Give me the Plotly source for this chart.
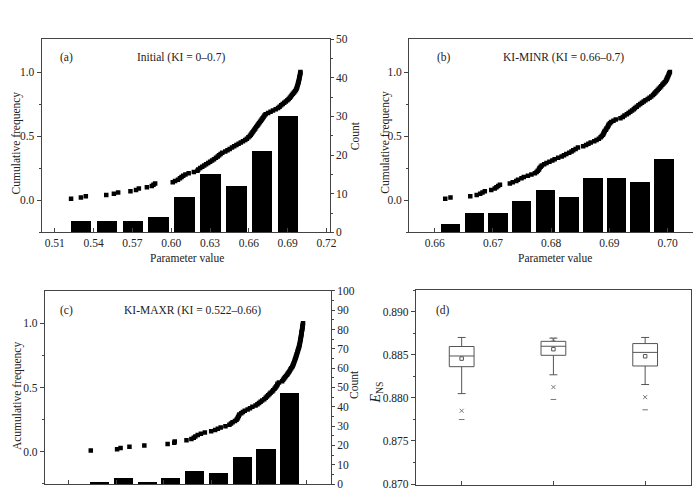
import plotly.graph_objects as go

# ---------------- data ----------------
# (a) Initial (KI = 0-0.7): sorted parameter samples and histogram
a_samples = [0.5226, 0.5302, 0.5340, 0.5498, 0.5557, 0.5590, 0.5685, 0.5728, 0.5750, 0.5812,
             0.5850, 0.5863, 0.5876, 0.6012, 0.6030, 0.6052, 0.6068, 0.6080, 0.6093, 0.6110,
             0.6135, 0.6175, 0.6203, 0.6209, 0.6224, 0.6240, 0.6255, 0.6270, 0.6286, 0.6301,
             0.6316, 0.6331, 0.6346, 0.6360, 0.6370, 0.6382, 0.6395, 0.6418, 0.6435, 0.6452,
             0.6470, 0.6487, 0.6504, 0.6521, 0.6538, 0.6555, 0.6572, 0.6585, 0.6597, 0.6608,
             0.6615, 0.6622, 0.6629, 0.6636, 0.6643, 0.6650, 0.6657, 0.6665, 0.6672, 0.6679,
             0.6686, 0.6693, 0.6700, 0.6707, 0.6714, 0.6721, 0.6730, 0.6749, 0.6768, 0.6787,
             0.6808, 0.6826, 0.6838, 0.6850, 0.6862, 0.6874, 0.6886, 0.6898, 0.6908, 0.6917,
             0.6925, 0.6933, 0.6941, 0.6949, 0.6957, 0.6964, 0.6968, 0.6972, 0.6975, 0.6978,
             0.6981, 0.6984, 0.6986, 0.6988, 0.6990, 0.6992, 0.6994, 0.6996, 0.6998, 0.6999]
a_bin_centers = [0.53, 0.55, 0.57, 0.59, 0.61, 0.63, 0.65, 0.67, 0.69]
a_counts = [3, 3, 3, 4, 9, 15, 12, 21, 30]
a_bar_width = 0.0158

# (b) KI-MINR (KI = 0.66-0.7)
b_samples = [0.6618, 0.6627, 0.6661, 0.6672, 0.6678, 0.6682, 0.6686, 0.6697, 0.6703, 0.6706,
             0.6709, 0.6712, 0.6729, 0.6734, 0.6740, 0.6743, 0.6749, 0.6753, 0.6760, 0.6766,
             0.6772, 0.6775, 0.6777, 0.6779, 0.6780, 0.6782, 0.6784, 0.6788, 0.6792, 0.6797,
             0.6802, 0.6806, 0.6812, 0.6818, 0.6822, 0.6826, 0.6831, 0.6835, 0.6838, 0.6842,
             0.6846, 0.6855, 0.6860, 0.6864, 0.6868, 0.6874, 0.6878, 0.6882, 0.6885, 0.6887,
             0.6889, 0.6890, 0.6891, 0.6892, 0.6894, 0.6895, 0.6897, 0.6898, 0.6899, 0.6901,
             0.6903, 0.6907, 0.6911, 0.6919, 0.6923, 0.6926, 0.6930, 0.6933, 0.6936, 0.6939,
             0.6942, 0.6944, 0.6947, 0.6950, 0.6953, 0.6956, 0.6959, 0.6962, 0.6966, 0.6969,
             0.6972, 0.6975, 0.6977, 0.6979, 0.6981, 0.6983, 0.6985, 0.6987, 0.6989, 0.6991,
             0.6993, 0.6995, 0.6997, 0.6998, 0.6999, 0.7000, 0.7001, 0.7002, 0.7003, 0.7004]
b_bin_centers = [0.6627, 0.6668, 0.6709, 0.6749, 0.6790, 0.6831, 0.6872, 0.6913, 0.6953, 0.6994]
b_counts = [2, 5, 5, 8, 11, 9, 14, 14, 13, 19]
b_bar_width = 0.0033

# (c) KI-MAXR (KI = 0.522-0.66)
c_samples = [0.5240, 0.5406, 0.5428, 0.5484, 0.5578, 0.5725, 0.5767, 0.5770, 0.5844, 0.5875,
             0.5890, 0.5900, 0.5915, 0.5935, 0.5960, 0.6000, 0.6025, 0.6042, 0.6060, 0.6090,
             0.6115, 0.6125, 0.6135, 0.6150, 0.6160, 0.6166, 0.6170, 0.6174, 0.6178, 0.6190,
             0.6200, 0.6212, 0.6230, 0.6245, 0.6260, 0.6280, 0.6292, 0.6302, 0.6312, 0.6322,
             0.6335, 0.6344, 0.6352, 0.6360, 0.6368, 0.6375, 0.6385, 0.6392, 0.6400, 0.6406,
             0.6412, 0.6417, 0.6419, 0.6428, 0.6448, 0.6454, 0.6460, 0.6466, 0.6472, 0.6479,
             0.6484, 0.6490, 0.6495, 0.6500, 0.6505, 0.6511, 0.6514, 0.6518, 0.6521, 0.6524,
             0.6527, 0.6530, 0.6533, 0.6535, 0.6538, 0.6540, 0.6543, 0.6545, 0.6548, 0.6550,
             0.6553, 0.6555, 0.6557, 0.6559, 0.6560, 0.6562, 0.6563, 0.6565, 0.6566, 0.6567,
             0.6569, 0.6570, 0.6571, 0.6572, 0.6574, 0.6575, 0.6576, 0.6577, 0.6578, 0.6580]
c_bin_centers = [0.5295, 0.5445, 0.5595, 0.5745, 0.5895, 0.6045, 0.6195, 0.6345, 0.6495]
c_counts = [1, 3, 1, 3, 7, 6, 14, 18, 47]
c_bar_width = 0.012

# (d) box statistics of E_NS for the three sets
d_pos = [1, 2, 3]
d_lowerfence = [0.88049, 0.88267, 0.88154]
d_q1 = [0.88361, 0.88493, 0.88369]
d_median = [0.88485, 0.88598, 0.88527]
d_q3 = [0.88595, 0.88655, 0.88629]
d_upperfence = [0.88700, 0.88692, 0.88700]
d_mean = [0.88455, 0.88564, 0.88482]
d_p1 = [0.87850, 0.88124, 0.88008]
d_min = [0.87748, 0.87981, 0.87861]
d_p99_x = [2]
d_p99 = [0.88680]

# ---------------- helpers ----------------
W, H = 700, 491
FONT = "Liberation Serif, Times New Roman, serif"
TXT = "#222222"
LN = "#444444"
FS = 11.5


def px(x):
    return x / W


def py(y):
    return 1 - y / H


def cumfreq(samples):
    n = len(samples)
    return [(i + 1) / n for i in range(n)]


fig = go.Figure()

dot = dict(symbol="square", size=4.5, color="black", line=dict(width=0))

# (a)
fig.add_trace(go.Bar(x=a_bin_centers, y=a_counts, width=a_bar_width, marker=dict(color="black", line=dict(width=0)),
                     xaxis="x", yaxis="y2"))
fig.add_trace(go.Scatter(x=a_samples, y=cumfreq(a_samples), mode="markers", marker=dot, xaxis="x", yaxis="y"))
# (b)
fig.add_trace(go.Bar(x=b_bin_centers, y=b_counts, width=b_bar_width, marker=dict(color="black", line=dict(width=0)),
                     xaxis="x2", yaxis="y4"))
fig.add_trace(go.Scatter(x=b_samples, y=cumfreq(b_samples), mode="markers", marker=dot, xaxis="x2", yaxis="y3"))
# (c)
fig.add_trace(go.Bar(x=c_bin_centers, y=c_counts, width=c_bar_width, marker=dict(color="black", line=dict(width=0)),
                     xaxis="x3", yaxis="y6"))
fig.add_trace(go.Scatter(x=c_samples, y=cumfreq(c_samples), mode="markers", marker=dot, xaxis="x3", yaxis="y5"))
# (d)
fig.add_trace(go.Box(x=d_pos, q1=d_q1, median=d_median, q3=d_q3, lowerfence=d_lowerfence, upperfence=d_upperfence,
                     width=0.27, whiskerwidth=0.32, line=dict(color="#555555", width=1), fillcolor="white",
                     boxpoints=False, xaxis="x4", yaxis="y7"))
fig.add_trace(go.Scatter(x=d_pos, y=d_mean, mode="markers",
                         marker=dict(symbol="square-open", size=3.5, color="#555555", line=dict(width=1)),
                         xaxis="x4", yaxis="y7"))
fig.add_trace(go.Scatter(x=d_pos + d_p99_x, y=d_p1 + d_p99, mode="markers",
                         marker=dict(symbol="x-thin-open", size=4, color="#777777", line=dict(width=1)),
                         xaxis="x4", yaxis="y7"))
fig.add_trace(go.Scatter(x=d_pos, y=d_min, mode="markers",
                         marker=dict(symbol="line-ew-open", size=4, color="#777777", line=dict(width=1)),
                         xaxis="x4", yaxis="y7"))

tickfont = dict(family=FONT, size=FS, color=TXT)
common = dict(showline=True, linecolor=LN, linewidth=1, showgrid=False, zeroline=False,
              tickfont=tickfont, tickcolor=LN, tickwidth=1)

top_dom = [py(232), py(34)]
bot_dom_c = [py(490), py(292)]

fig.update_layout(
    width=W, height=H, margin=dict(l=0, r=0, t=0, b=0),
    paper_bgcolor="white", plot_bgcolor="white", showlegend=False, bargap=0,
    # (a)
    xaxis=dict(domain=[px(42), px(333)], anchor="y", range=[0.4998, 0.7225], tick0=0.51, dtick=0.03,
               tickformat=".2f", ticks="inside", ticklen=4, mirror=True, **common),
    yaxis=dict(domain=top_dom, anchor="x", range=[-0.2513, 1.2566], tickvals=[0, 0.5, 1.0], tickformat=".1f",
               ticks="outside", ticklen=4, minor=dict(tickvals=[-0.25, 0.25, 0.75], ticks="outside", ticklen=2,
                                                       tickcolor=LN), **common),
    yaxis2=dict(overlaying="y", side="right", anchor="x", range=[0, 50], dtick=10, ticks="outside", ticklen=3,
                minor=dict(dtick=5, ticks="outside", ticklen=2, tickcolor=LN), **common),
    # (b)
    xaxis2=dict(domain=[px(413.3), 1.0], anchor="y3", range=[0.6556, 0.70437], tick0=0.66, dtick=0.01,
                tickformat=".2f", ticks="inside", ticklen=4, mirror=True, **common),
    yaxis3=dict(domain=top_dom, anchor="x2", range=[-0.2513, 1.2566], tickvals=[0, 0.5, 1.0], tickformat=".1f",
                ticks="outside", ticklen=4, minor=dict(tickvals=[-0.25, 0.25, 0.75], ticks="outside", ticklen=2,
                                                        tickcolor=LN), **common),
    yaxis4=dict(overlaying="y3", side="right", anchor="x2", range=[0, 50], visible=False),
    # (c)
    xaxis3=dict(domain=[px(45.3), px(334.3)], anchor="y5", range=[0.495, 0.6756], tick0=0.51, dtick=0.03,
                showticklabels=False, ticks="inside", ticklen=4, mirror=True, **common),
    yaxis5=dict(domain=bot_dom_c, anchor="x3", range=[-0.2506, 1.2528], tickvals=[0, 0.5, 1.0], tickformat=".1f",
                ticks="outside", ticklen=4, minor=dict(tickvals=[-0.25, 0.25, 0.75], ticks="outside", ticklen=2,
                                                        tickcolor=LN), **common),
    yaxis6=dict(overlaying="y5", side="right", anchor="x3", range=[0, 100], dtick=10, ticks="outside", ticklen=3,
                minor=dict(dtick=5, ticks="outside", ticklen=2, tickcolor=LN), **common),
    # (d)
    xaxis4=dict(domain=[px(420), px(698)], anchor="y7", range=[0.5, 3.5], tickvals=[1, 2, 3],
                showticklabels=False, ticks="inside", ticklen=4, mirror=True, **common),
    yaxis7=dict(domain=[0, py(290.7)], anchor="x4", range=[0.86989, 0.89255], tick0=0.87, dtick=0.005,
                tickformat=".3f", ticks="outside", ticklen=4, mirror=True,
                minor=dict(dtick=0.0025, ticks="outside", ticklen=2, tickcolor=LN), **common),
)


def ann(text, x, y, angle=0, size=FS):
    fig.add_annotation(text=text, x=px(x), y=py(y), xref="paper", yref="paper", showarrow=False,
                       textangle=angle, xanchor="center", yanchor="middle",
                       font=dict(family=FONT, size=size, color=TXT))


ann("(a)", 66.7, 53.3)
ann("Initial (KI = 0–0.7)", 182.5, 53.3)
ann("(b)", 448.3, 53.3)
ann("KI-MINR (KI = 0.66–0.7)", 569, 53.3)
ann("(c)", 66.7, 311.7)
ann("KI-MAXR (KI = 0.522–0.66)", 194, 311.7)
ann("(d)", 447.7, 311.7)
ann("Cumulative frequency", 17, 140, -90)
ann("Cumulative frequency", 389, 140, -90)
ann("Acumulative frequency", 17, 400, -90)
ann("Count", 358, 133, -90)
ann("Count", 357, 388, -90)
ann("Parameter value", 189, 258)
ann("Parameter value", 560.5, 258)
ann("<i>E</i><sub>NS</sub>", 380, 396, -90, size=14)

fig.write_html("out.html")
